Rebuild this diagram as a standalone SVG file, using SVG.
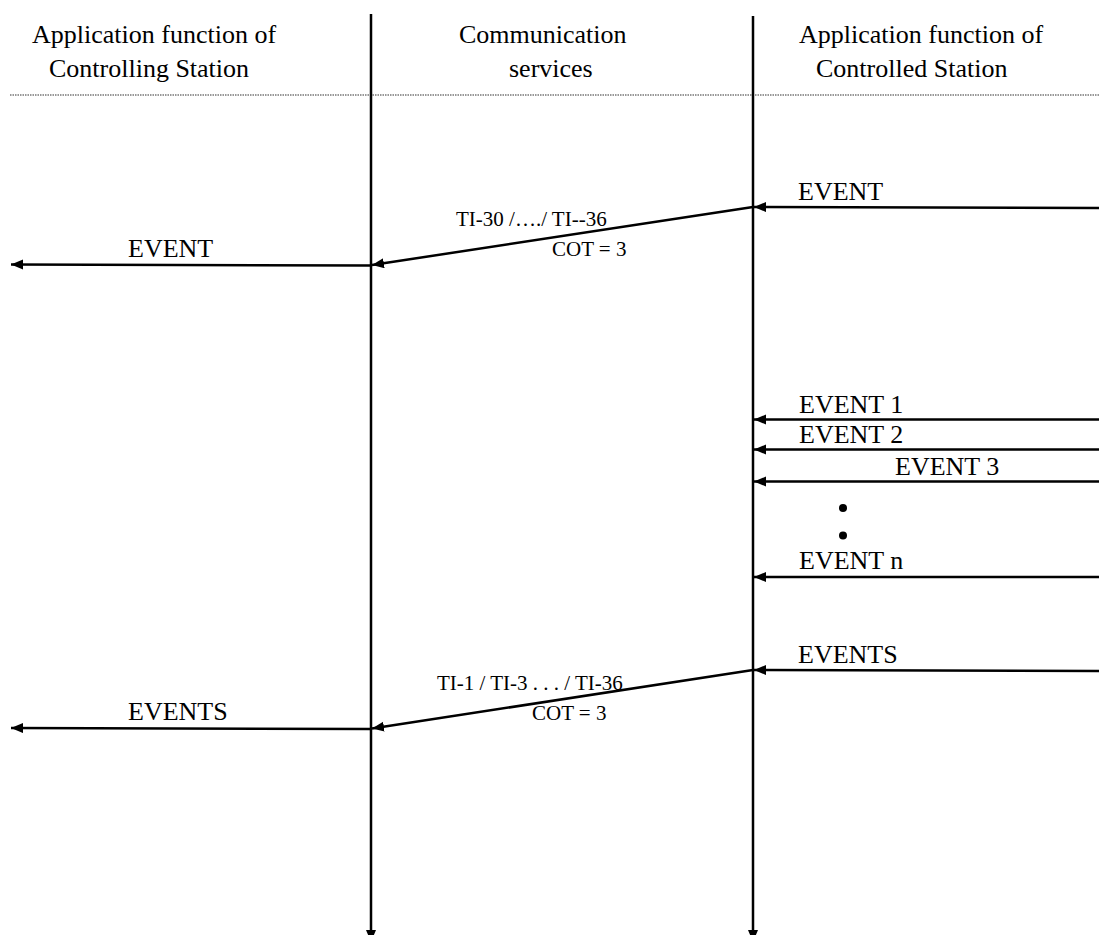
<svg xmlns="http://www.w3.org/2000/svg" width="1099" height="935" viewBox="0 0 1099 935">
<style>
text{font-family:"Liberation Serif","Times New Roman",serif;fill:#000}
.h{font-size:26px}
.l{font-size:26px}
.s{font-size:21px}
.ln{stroke:#000;stroke-width:2.5;fill:none}
.ar{stroke:#000;stroke-width:2.5;fill:none;marker-end:url(#ah)}
</style>
<defs>
<marker id="ah" markerUnits="userSpaceOnUse" markerWidth="13" markerHeight="11" refX="12" refY="5" orient="auto">
<path d="M0,0 L12,5 L0,10 Z" fill="#000"/>
</marker>
</defs>
<rect width="1099" height="935" fill="#fff"/>
<g id="header">
<text class="h" x="32" y="43">Application function of</text>
<text class="h" x="49" y="77">Controlling Station</text>
<text class="h" x="459" y="43">Communication</text>
<text class="h" x="509" y="77">services</text>
<text class="h" x="799" y="43">Application function of</text>
<text class="h" x="816" y="77">Controlled Station</text>
<line x1="10" y1="95" x2="1099" y2="95" stroke="#333" stroke-width="1.2" stroke-dasharray="1.5 1"/>
</g>
<g id="lifelines">
<line class="ar" x1="371" y1="14" x2="371" y2="942"/>
<line class="ar" x1="753" y1="16" x2="753" y2="942"/>
</g>
<g id="connectors">
<line class="ar" x1="1099" y1="208" x2="754" y2="207"/>
<line class="ar" x1="753" y1="207" x2="372" y2="265"/>
<line class="ar" x1="371" y1="265.5" x2="11" y2="264.5"/>
<line class="ar" x1="1099" y1="419.5" x2="754" y2="419.5"/>
<line class="ar" x1="1099" y1="449.5" x2="754" y2="449.5"/>
<line class="ar" x1="1099" y1="481.5" x2="754" y2="481.5"/>
<line class="ar" x1="1099" y1="577" x2="754" y2="577"/>
<line class="ar" x1="1099" y1="671" x2="754" y2="670"/>
<line class="ar" x1="753" y1="670" x2="372" y2="728.5"/>
<line class="ar" x1="371" y1="729" x2="11" y2="728"/>
</g>
<g id="labels">
<text class="l" x="798" y="200">EVENT</text>
<text class="s" x="456" y="226">TI-30 /…./ TI--36</text>
<text class="s" x="552" y="256">COT = 3</text>
<text class="l" x="128" y="257">EVENT</text>
<text class="l" x="799" y="413">EVENT 1</text>
<text class="l" x="799" y="443">EVENT 2</text>
<text class="l" x="895" y="475">EVENT 3</text>
<circle cx="843" cy="508" r="4"/>
<circle cx="843" cy="535.5" r="4"/>
<text class="l" x="799" y="569">EVENT n</text>
<text class="l" x="798" y="663">EVENTS</text>
<text class="s" x="437" y="690">TI-1 / TI-3 . . . / TI-36</text>
<text class="s" x="532" y="720">COT = 3</text>
<text class="l" x="128" y="720">EVENTS</text>
</g>
</svg>
